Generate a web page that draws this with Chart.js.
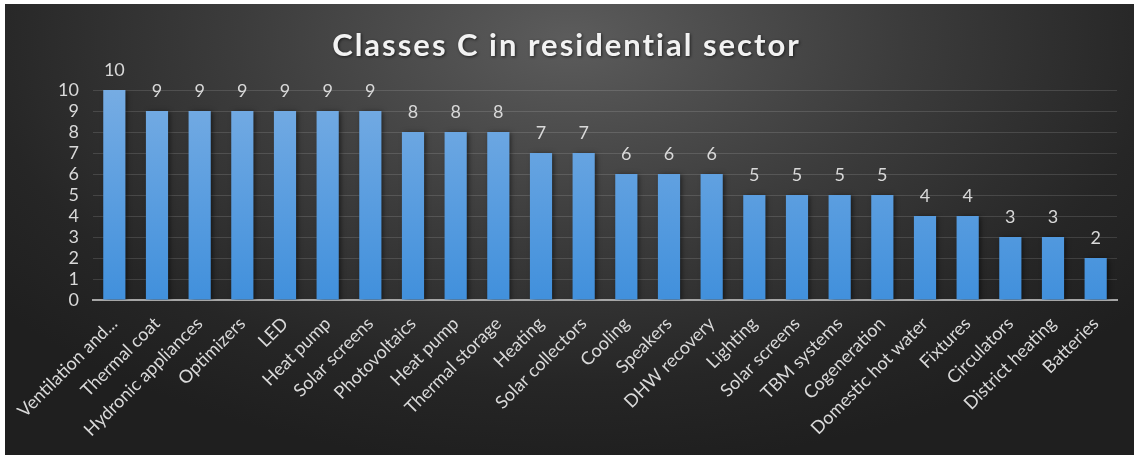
<!DOCTYPE html>
<html>
<head>
<meta charset="utf-8">
<script src="https://cdn.jsdelivr.net/npm/chart.js@4"></script>
<style>
  html, body { margin: 0; padding: 0; background: #ffffff; }
  #wrap {
    position: absolute; left: 5px; top: 4px; width: 1129px; height: 451px;
    background: radial-gradient(ellipse 65% 95% at 50% 8%, #5c5c5c 0%, #3c3c3c 45%, #262626 80%, #1f1f1f 100%);
  }
</style>
</head>
<body>
<div id="wrap"><canvas id="classesChart" width="1129" height="451"></canvas></div>
<script>
const categories = [
    'Ventilation and...', 'Thermal coat', 'Hydronic appliances', 'Optimizers', 'LED',
    'Heat pump', 'Solar screens', 'Photovoltaics', 'Heat pump', 'Thermal storage',
    'Heating', 'Solar collectors', 'Cooling', 'Speakers', 'DHW recovery',
    'Lighting', 'Solar screens', 'TBM systems', 'Cogeneration', 'Domestic hot water',
    'Fixtures', 'Circulators', 'District heating', 'Batteries'
];
const counts = [10, 9, 9, 9, 9, 9, 9, 8, 8, 8, 7, 7, 6, 6, 6, 5, 5, 5, 5, 4, 4, 3, 3, 2];
const yMin = 0;
const yMax = 10;
const yStep = 1;
const chartTitle = 'Classes C in residential sector';

const textColor = '#d9d9d9';
const baseFont = 'Lato, "Open Sans", sans-serif';

// value labels above each bar
const valueLabels = {
    id: 'valueLabels',
    afterDatasetsDraw(chart) {
        const ctx = chart.ctx;
        const meta = chart.getDatasetMeta(0);
        ctx.save();
        ctx.font = '18px ' + baseFont;
        ctx.fillStyle = textColor;
        ctx.textAlign = 'center';
        ctx.textBaseline = 'middle';
        meta.data.forEach((bar, i) => {
            ctx.fillText(String(counts[i]), bar.x, bar.y - 20);
        });
        ctx.restore();
    }
};

// soft shadow behind the bars
const barShadow = {
    id: 'barShadow',
    beforeDatasetsDraw(chart) {
        const ctx = chart.ctx;
        ctx.save();
        ctx.shadowColor = 'rgba(0,0,0,0.55)';
        ctx.shadowBlur = 5;
        ctx.shadowOffsetX = 2;
        ctx.shadowOffsetY = 1;
    },
    afterDatasetsDraw(chart) {
        chart.ctx.restore();
    }
};

// spaced-out bold title
const spacedTitle = {
    id: 'spacedTitle',
    afterDraw(chart) {
        const ctx = chart.ctx;
        ctx.save();
        ctx.font = 'bold 31px ' + baseFont;
        ctx.letterSpacing = '2px';
        ctx.fillStyle = '#f2f2f2';
        ctx.textAlign = 'center';
        ctx.textBaseline = 'middle';
        ctx.shadowColor = 'rgba(0,0,0,0.6)';
        ctx.shadowBlur = 3;
        ctx.shadowOffsetX = 1;
        ctx.shadowOffsetY = 1;
        ctx.fillText(chartTitle, chart.width / 2 - 3, 42);
        ctx.restore();
    }
};

const ctx = document.getElementById('classesChart').getContext('2d');
new Chart(ctx, {
    type: 'bar',
    data: {
        labels: categories,
        datasets: [{
            data: counts,
            backgroundColor(context) {
                const area = context.chart.chartArea;
                if (!area) return '#5b9bd5';
                const g = context.chart.ctx.createLinearGradient(0, area.top, 0, area.bottom);
                g.addColorStop(0, '#76ace3');
                g.addColorStop(1, '#4190dc');
                return g;
            },
            borderWidth: 0,
            categoryPercentage: 1,
            barPercentage: 0.52
        }]
    },
    options: {
        responsive: false,
        animation: false,
        layout: { padding: { top: 86, right: 17, left: 0, bottom: 0 } },
        plugins: {
            legend: { display: false },
            title: { display: false },
            tooltip: { enabled: false }
        },
        scales: {
            x: {
                grid: { display: false },
                border: { display: true, color: '#a6a6a6', width: 2 },
                ticks: {
                    color: textColor,
                    font: { family: baseFont, size: 18 },
                    autoSkip: false,
                    minRotation: 45,
                    maxRotation: 45,
                    padding: 5
                },
                afterFit(scale) { scale.height = 155; }
            },
            y: {
                min: yMin,
                max: yMax,
                grid: { color: 'rgba(255,255,255,0.13)', drawTicks: false },
                border: { display: false },
                ticks: {
                    stepSize: yStep,
                    autoSkip: false,
                    color: textColor,
                    font: { family: baseFont, size: 18 },
                    padding: 14
                },
                afterFit(scale) { scale.width = 88; }
            }
        }
    },
    plugins: [barShadow, valueLabels, spacedTitle]
});
</script>
</body>
</html>
